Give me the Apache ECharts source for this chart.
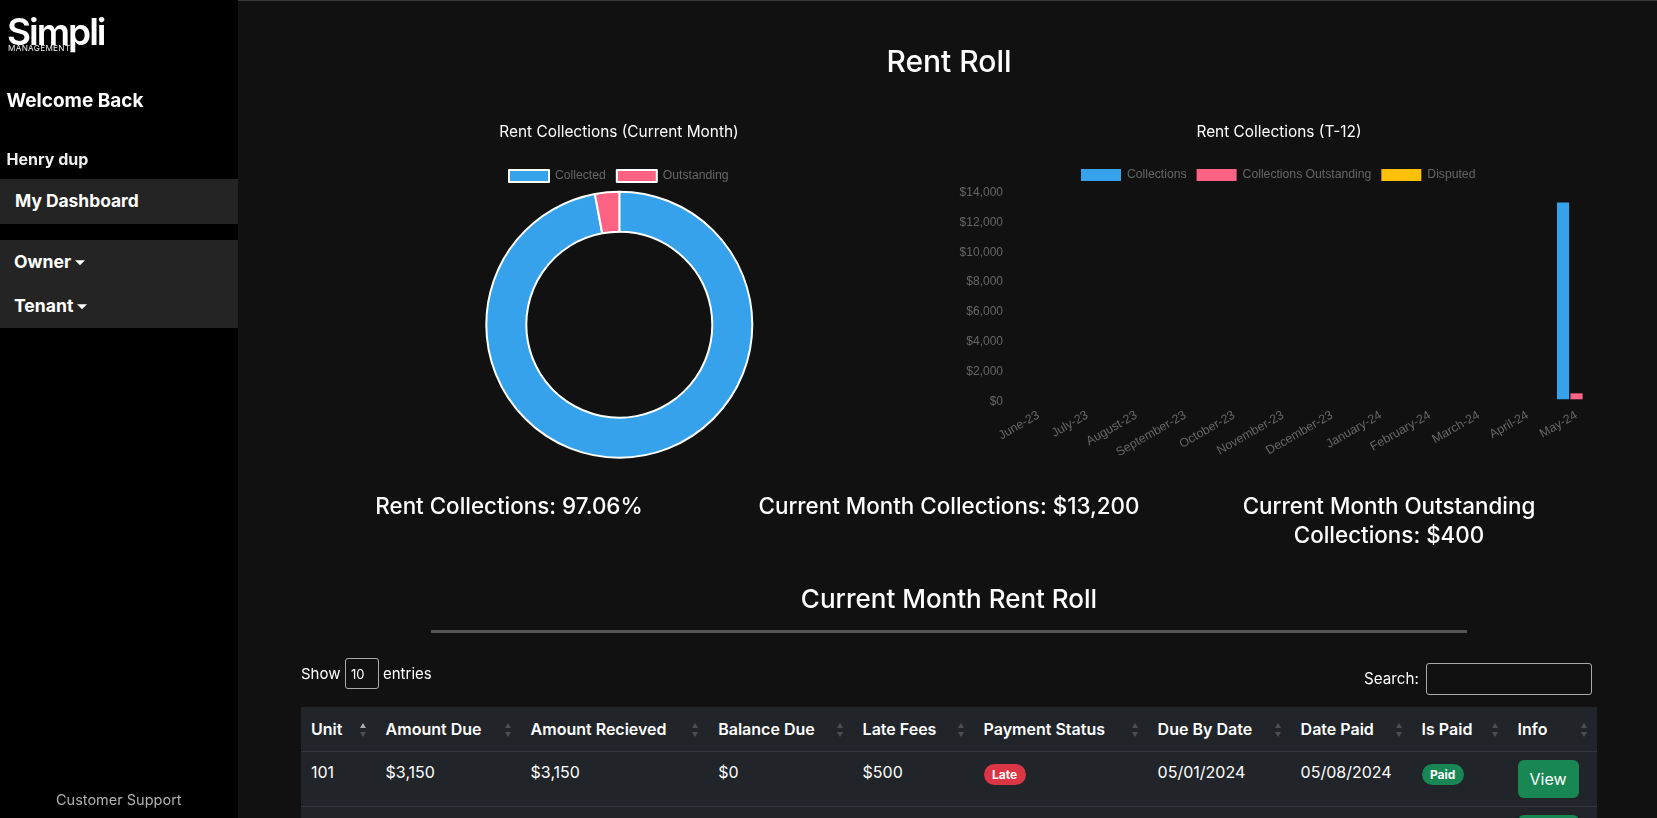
<!DOCTYPE html>
<html><head><meta charset="utf-8"><title>Rent Roll</title>
<script src="https://cdn.jsdelivr.net/npm/echarts@6/dist/echarts.min.js"></script>
<style>
html,body{margin:0;padding:0;width:1657px;height:818px;overflow:hidden;background:#111;font-family:Inter,"Noto Sans",sans-serif;color:#fff}
#chart{position:absolute;left:0;top:0;width:1657px;height:818px}
.a{position:absolute;white-space:nowrap;line-height:1}
.c{transform:translate(-50%,-50%)}
.v{transform:translateY(-50%)}
#side{position:absolute;left:0;top:0;width:238px;height:818px;background:#000}
#topline{position:absolute;left:238px;right:0;top:0;height:1px;background:#3a3a3a}
.panel{position:absolute;left:0;width:238px;background:#242424}
.caret{display:inline-block;margin-left:4px;vertical-align:3px;border-left:5px solid transparent;border-right:5px solid transparent;border-top:5px solid #fff}
h1,h2,h3{margin:0;font-weight:500}
.box{position:absolute;border:1px solid #aaa;border-radius:3px;box-sizing:border-box}
#tbl{position:absolute;left:301px;top:707px;width:1296px;border-collapse:collapse;table-layout:fixed;background:#212529;font-size:16px}
#tbl th{height:44px;padding:0 0 0 10px;text-align:left;font-weight:600;position:relative;border-bottom:1px solid #32383e;box-sizing:border-box;white-space:nowrap}
#tbl td{height:55px;padding:0 0 14px 10px;border-bottom:1px solid #32383e;box-sizing:border-box;white-space:nowrap}
.up,.dn{position:absolute;right:10px;width:0;height:0;border-left:3px solid transparent;border-right:3px solid transparent}
.up{top:16px;border-bottom:5px solid #4b5055}.dn{top:25px;border-top:5px solid #4b5055}
.badge{display:inline-block;width:42px;height:21px;line-height:21px;border-radius:11px;text-align:center;font-size:12px;font-weight:700;position:relative;top:2px}
.btn{display:block;width:61px;height:38px;line-height:38px;border-radius:6px;background:#198754;text-align:center}
</style></head>
<body>
<div id="side"></div><div id="topline"></div>
<div id="chart"></div>

<div class="a" style="left:7px;top:13px;font-size:37px;font-weight:600;letter-spacing:-2px">Simpli</div>
<div class="a" style="left:8px;top:44px;font-size:8.2px;letter-spacing:.3px;color:#eee">MANAGEMENT</div>
<div class="a v" style="left:6.5px;top:100px;font-size:19px;font-weight:700">Welcome Back</div>
<div class="a v" style="left:6.5px;top:159px;font-size:16px;font-weight:700;color:#eee">Henry dup</div>
<div class="panel" style="top:179px;height:45px"></div>
<div class="a v" style="left:15px;top:201px;font-size:17.4px;font-weight:700">My Dashboard</div>
<div class="panel" style="top:240px;height:88px"></div>
<div class="a v" style="left:14px;top:262px;font-size:17.6px;font-weight:700">Owner<span class="caret"></span></div>
<div class="a v" style="left:14px;top:306px;font-size:17.6px;font-weight:700">Tenant<span class="caret"></span></div>
<div class="a v" style="left:56px;top:800px;font-size:14.5px;color:#b0b0b0">Customer Support</div>

<h1 class="a c" style="left:949px;top:61px;font-size:30px;font-weight:500">Rent Roll</h1>
<div class="a c" style="left:509px;top:506px;font-size:22.4px;font-weight:500">Rent Collections: 97.06%</div>
<div class="a c" style="left:949px;top:506px;font-size:22.4px;font-weight:500">Current Month Collections: $13,200</div>
<div class="a c" style="left:1389px;top:506px;font-size:22.4px;font-weight:500">Current Month Outstanding</div>
<div class="a c" style="left:1389px;top:535px;font-size:22.4px;font-weight:500">Collections: $400</div>
<h2 class="a c" style="left:949px;top:599px;font-size:26px;font-weight:500">Current Month Rent Roll</h2>
<div class="a" style="left:431px;top:630px;width:1036px;height:3px;background:#555"></div>

<div class="a v" style="left:301px;top:673px;font-size:15px">Show</div>
<div class="box" style="left:345px;top:658px;width:34px;height:31px"></div>
<div class="a v" style="left:351px;top:674px;font-size:13px">10</div>
<div class="a v" style="left:383px;top:673px;font-size:15px">entries</div>
<div class="a v" style="left:1364px;top:679px;font-size:15.2px">Search:</div>
<div class="box" style="left:1426px;top:663px;width:166px;height:32px"></div>

<table id="tbl"><colgroup id="cols"></colgroup><thead><tr id="head"></tr></thead><tbody id="body"></tbody></table>

<script>
// Chart data
const monthLabels = ["June-23","July-23","August-23","September-23","October-23","November-23","December-23","January-24","February-24","March-24","April-24","May-24"];
const collections = [0,0,0,0,0,0,0,0,0,0,0,13200];
const outstanding = [0,0,0,0,0,0,0,0,0,0,0,400];
const disputed = [0,0,0,0,0,0,0,0,0,0,0,0];
const donutNames = ["Collected","Outstanding"];
const donutValues = [13200,400];
// Table data
const tableHead = ["Unit","Amount Due","Amount Recieved","Balance Due","Late Fees","Payment Status","Due By Date","Date Paid","Is Paid","Info"];
const tableRow = ["101","$3,150","$3,150","$0","$500","Late","05/01/2024","05/08/2024","Paid","View"];
const colWidths = [74.6,145,187.6,144.4,121,174,143,121,96,89.4];

const cols = document.getElementById('cols');
colWidths.forEach(w => { const c = document.createElement('col'); c.style.width = w + 'px'; cols.appendChild(c); });
document.getElementById('head').innerHTML = tableHead.map((h,i) =>
  `<th>${h}<span class="up" ${i===0?'style="border-bottom-color:#aaa"':''}></span><span class="dn"></span></th>`).join('');
const cell = (v) => {
  if (v === 'Late') return `<td><span class="badge" style="background:#dc3545">${v}</span></td>`;
  if (v === 'Paid') return `<td><span class="badge" style="background:#198754">${v}</span></td>`;
  if (v === 'View') return `<td style="padding:8px 0 0 10px;vertical-align:top"><span class="btn">${v}</span></td>`;
  return `<td>${v}</td>`;
};
document.getElementById('body').innerHTML =
  `<tr>${tableRow.map(cell).join('')}</tr>` +
  `<tr>${tableRow.map((v,i)=> i===9 ? cell('View') : '<td></td>').join('')}</tr>`;

const ff = 'Inter';
const lg = '"Liberation Sans", Arial, sans-serif';
const legendText = {color:'#666', fontSize:12.2, fontFamily:lg, padding:[2,0,0,1]};
const chart = echarts.init(document.getElementById('chart'), null, {renderer:'canvas'});
chart.setOption({
  animation:false,
  backgroundColor:'transparent',
  title:[
    {text:'Rent Collections (Current Month)', left:614, top:120, textAlign:'center',
     textStyle:{color:'#fff',fontSize:15.4,fontWeight:400,fontFamily:ff}},
    {text:'Rent Collections (T-12)', left:1274, top:120, textAlign:'center',
     textStyle:{color:'#fff',fontSize:15.4,fontWeight:400,fontFamily:ff}}
  ],
  legend:[
    {data:donutNames, left:508, top:169, itemWidth:40, itemHeight:12, itemGap:10, icon:'rect', textStyle:legendText, selectedMode:false, padding:0},
    {data:['Collections','Collections Outstanding','Disputed'], left:1081, top:169, itemWidth:40, itemHeight:12, itemGap:10, icon:'rect', textStyle:legendText, selectedMode:false, padding:0}
  ],
  grid:{left:1014, top:190.7, width:587, height:208.6},
  xAxis:{type:'category', data:monthLabels,
    axisLine:{show:false}, axisTick:{show:false}, splitLine:{show:false},
    axisLabel:{color:'#666', fontSize:12.4, fontFamily:lg, rotate:30, interval:0, margin:15}},
  yAxis:{type:'value', min:0, max:14000, interval:2000,
    axisLine:{show:false}, axisTick:{show:false}, splitLine:{show:false},
    axisLabel:{color:'#666', fontSize:12, fontFamily:lg, margin:11, verticalAlign:'top', lineHeight:4,
      formatter:v => '$' + v.toLocaleString('en-US')}},
  series:[
    {type:'pie', name:'Current', radius:[93,133], center:[619.3,324.7], startAngle:90, clockwise:true,
     label:{show:false}, labelLine:{show:false}, silent:true,
     data:[
       {name:donutNames[0], value:donutValues[0], itemStyle:{color:'#36a2eb', borderColor:'#fff', borderWidth:2}},
       {name:donutNames[1], value:donutValues[1], itemStyle:{color:'#ff6384', borderColor:'#fff', borderWidth:2}}
     ]},
    {type:'bar', name:'Collections', data:collections, itemStyle:{color:'#36a2eb'}, barCategoryGap:'20%', barGap:'11%', silent:true},
    {type:'bar', name:'Collections Outstanding', data:outstanding, itemStyle:{color:'#ff6384'}, silent:true},
    {type:'bar', name:'Disputed', data:disputed, itemStyle:{color:'#ffc107'}, silent:true}
  ]
});
</script>
</body></html>
